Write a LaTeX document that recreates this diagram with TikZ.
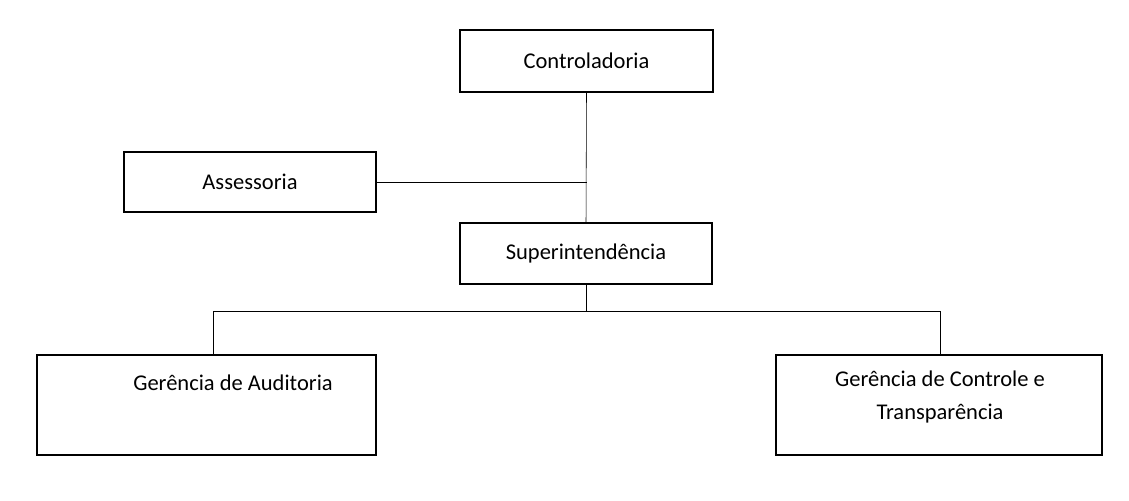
\documentclass[tikz,border=0pt]{standalone}
\usepackage{fontspec}
\setmainfont{Carlito}
\begin{document}
\begin{tikzpicture}[x=0.025cm,y=-0.025cm,
  every node/.style={outer sep=0pt, font=\fontsize{16}{24}\selectfont},
  box/.style={draw, thick, minimum width=#1*0.025cm},
  link/.style={thin}]
\useasboundingbox (0,0) rectangle (1129,500);
\node[box=253, minimum height=62*0.025cm] (ctrl) at (586.5,61) {Controladoria};
\node[box=252, minimum height=60*0.025cm] (asses) at (250,182) {Assessoria};
\node[box=252, minimum height=61*0.025cm] (super) at (586,253.5) {Superintendência};
\node[box=339, minimum height=100*0.025cm] (audit) at (206.5,405) {};
\node[box=326, minimum height=100*0.025cm] (transp) at (939,405) {};
\node (auditT) at (233,383) {Gerência de Auditoria};
\node[align=center] (transpT) at (940,397) {Gerência de Controle e\\Transparência};

\coordinate (j1) at (ctrl.south |- asses.east);
\coordinate (j2) at (super.south |- 0,311);
\coordinate (jl) at (213,311);
\coordinate (jr) at (940,311);
\draw[link] (ctrl.south) -- (super.north);
\draw[link] (asses.east) -- (j1);
\draw[link] (super.south) -- (j2);
\draw[link] (jl) -- (jr);
\draw[link] (jl) -- (jl |- audit.north);
\draw[link] (jr) -- (jr |- transp.north);
\end{tikzpicture}
\end{document}
